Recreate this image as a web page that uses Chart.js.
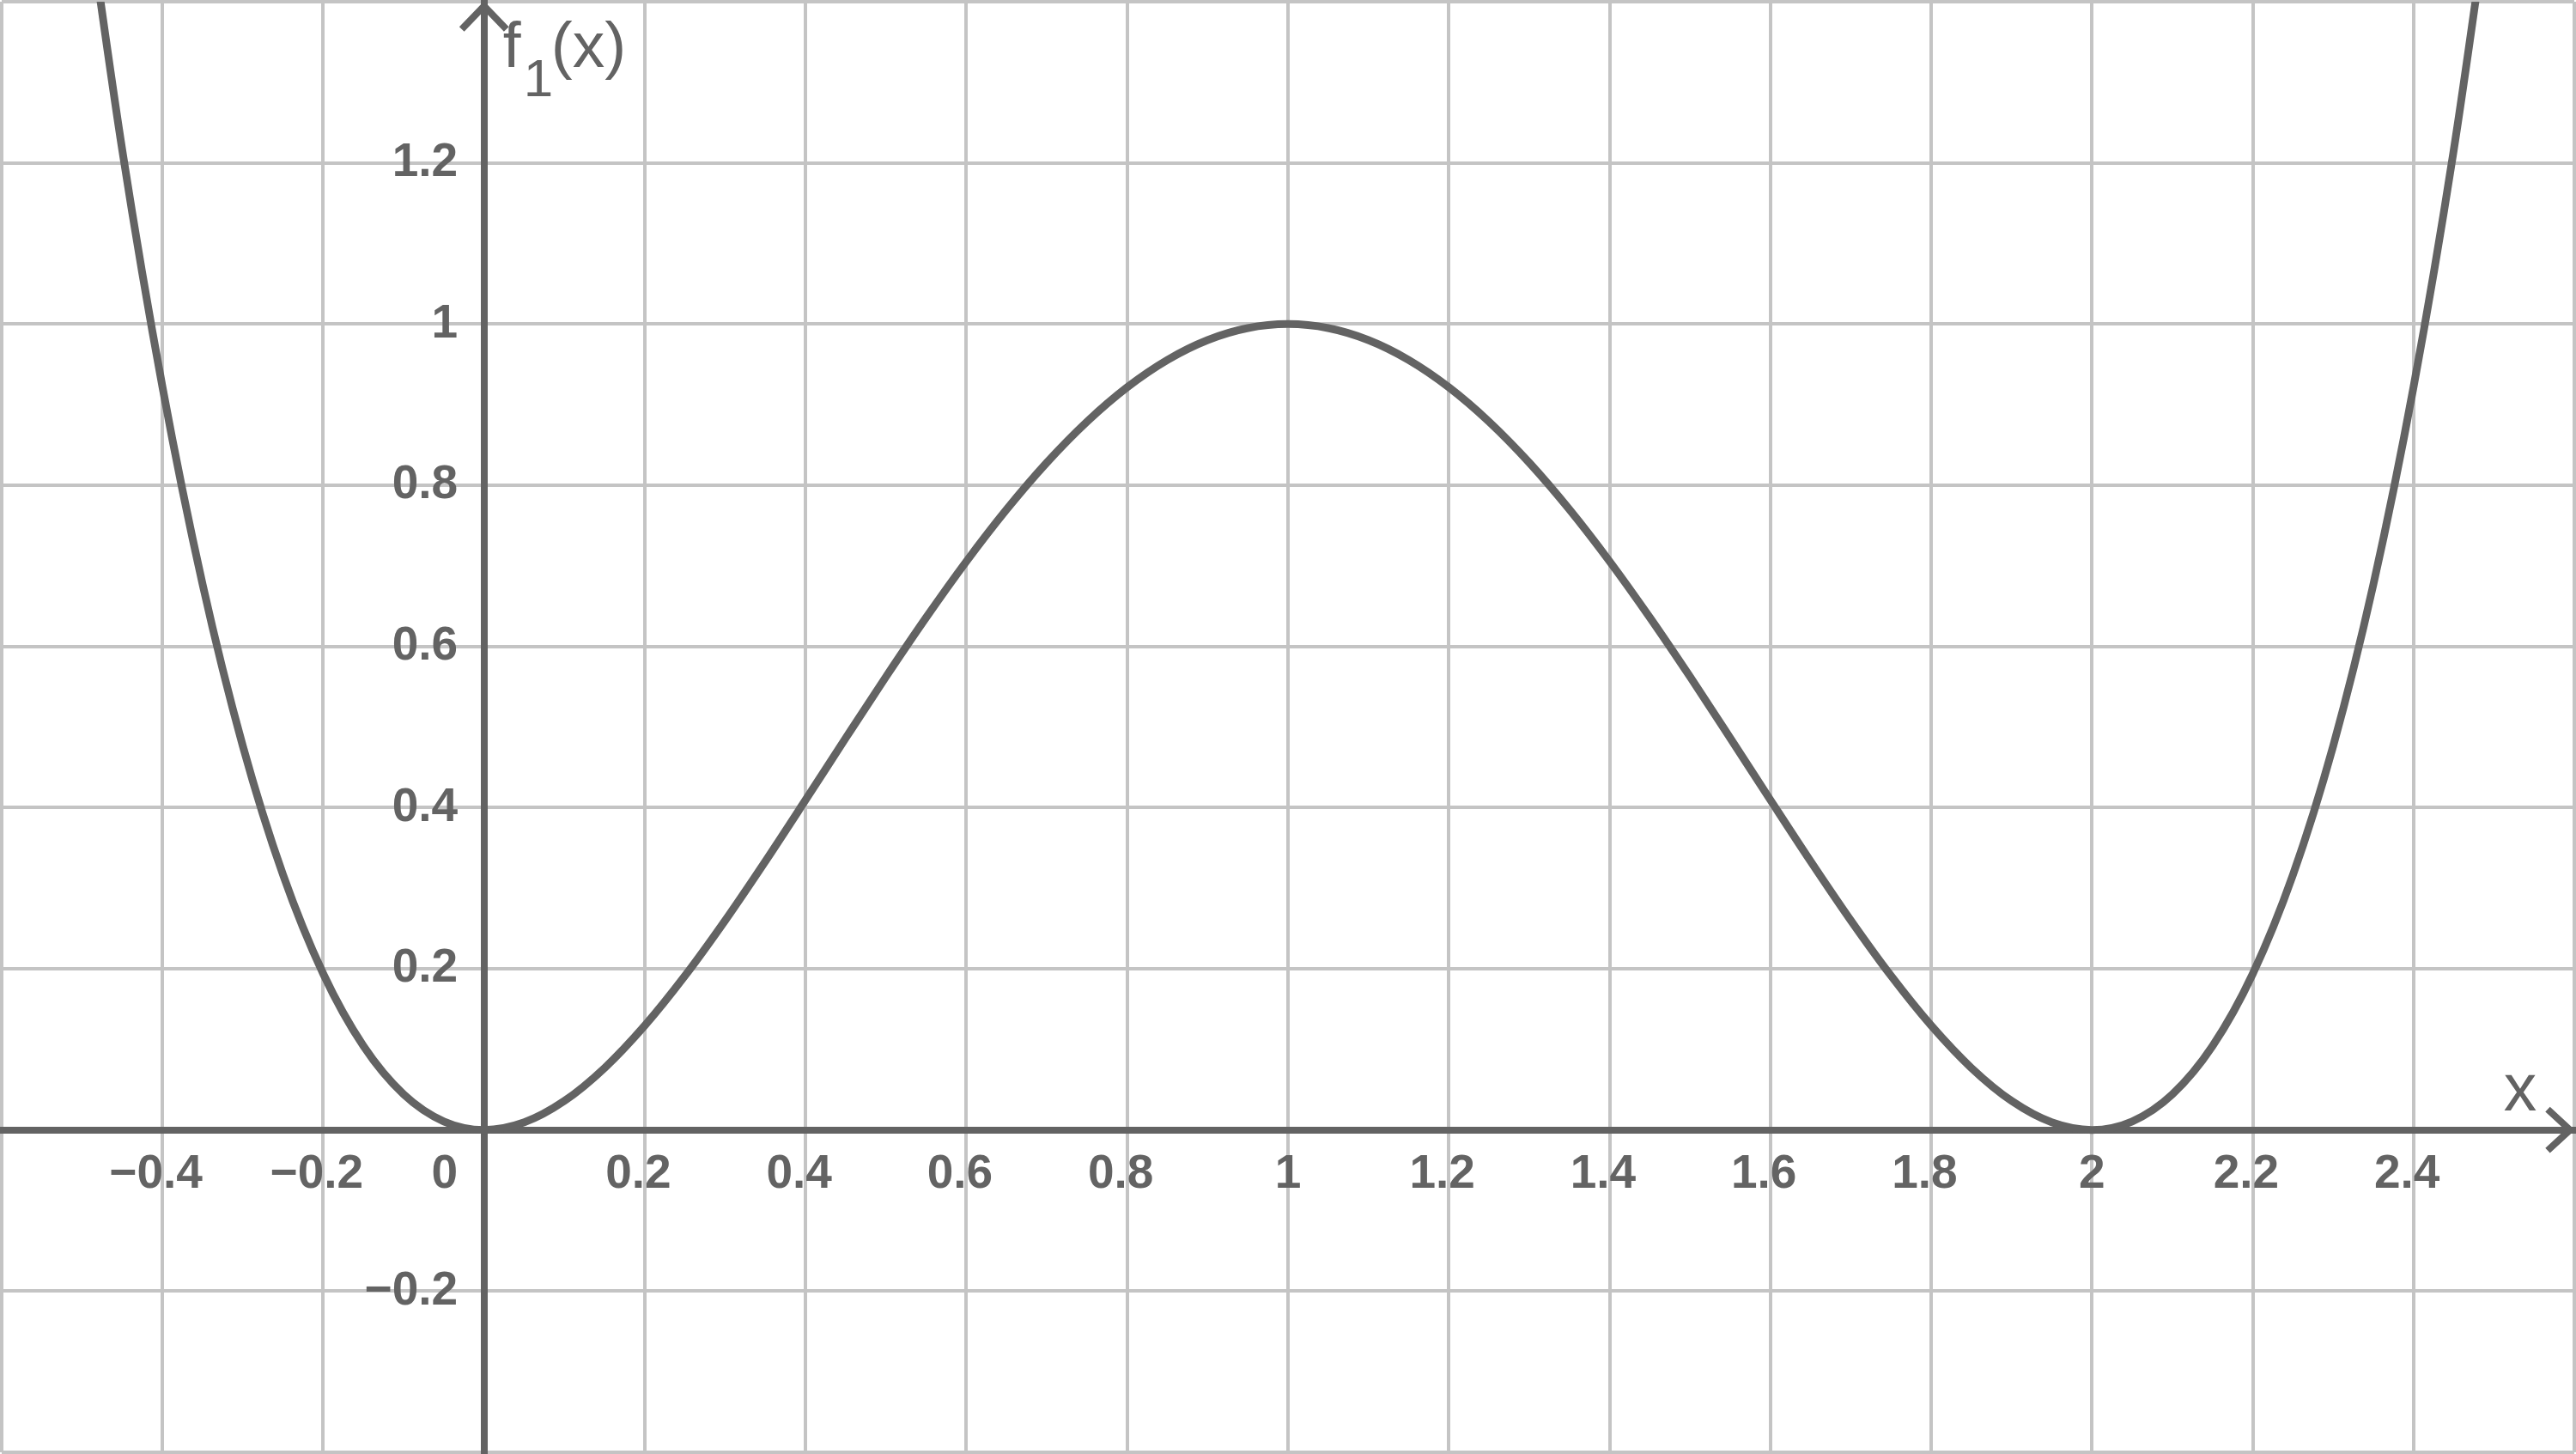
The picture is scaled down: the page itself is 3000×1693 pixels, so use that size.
<!DOCTYPE html>
<html lang="en">

<head>
    <meta charset="UTF-8">
    <title>f1(x)</title>

    <!-- Load Chart.js from CDN -->
    <script src="https://cdn.jsdelivr.net/npm/chart.js"></script>

    <style>
        html,
        body {
            margin: 0;
            padding: 0;
            background: #ffffff;
        }

        #chart-container {
            width: 3000px;
            height: 1693px;
        }
    </style>
</head>

<body>

    <div id="chart-container">
        <canvas id="funcChart"></canvas>
    </div>

    <script>
        // x positions of the sampled curve
        const xValues = [
            -0.5, -0.45, -0.4, -0.35, -0.3, -0.25, -0.2, -0.15, -0.1, -0.05,
            0, 0.05, 0.1, 0.15, 0.2, 0.25, 0.3, 0.35, 0.4, 0.45,
            0.5, 0.55, 0.6, 0.65, 0.7, 0.75, 0.8, 0.85, 0.9, 0.95,
            1, 1.05, 1.1, 1.15, 1.2, 1.25, 1.3, 1.35, 1.4, 1.45,
            1.5, 1.55, 1.6, 1.65, 1.7, 1.75, 1.8, 1.85, 1.9, 1.95,
            2, 2.05, 2.1, 2.15, 2.2, 2.25, 2.3, 2.35, 2.4, 2.45, 2.5
        ];

        // f1(x)
        const fValues = [
            1.5625, 1.2155, 0.9216, 0.6765, 0.4761, 0.3164, 0.1936, 0.1040, 0.0441, 0.0105,
            0, 0.0095, 0.0361, 0.0770, 0.1296, 0.1914, 0.2601, 0.3335, 0.4096, 0.4865,
            0.5625, 0.6360, 0.7056, 0.7700, 0.8281, 0.8789, 0.9216, 0.9555, 0.9801, 0.9950,
            1, 0.9950, 0.9801, 0.9555, 0.9216, 0.8789, 0.8281, 0.7700, 0.7056, 0.6360,
            0.5625, 0.4865, 0.4096, 0.3335, 0.2601, 0.1914, 0.1296, 0.0770, 0.0361, 0.0095,
            0, 0.0105, 0.0441, 0.1040, 0.1936, 0.3164, 0.4761, 0.6765, 0.9216, 1.2155, 1.5625
        ];

        // grid / tick positions
        const xTicks = [-0.6, -0.4, -0.2, 0, 0.2, 0.4, 0.6, 0.8, 1, 1.2, 1.4, 1.6, 1.8, 2, 2.2, 2.4, 2.6];
        const yTicks = [-0.4, -0.2, 0, 0.2, 0.4, 0.6, 0.8, 1, 1.2, 1.4];

        // which ticks get a label
        const xLabelled = [-0.4, -0.2, 0, 0.2, 0.4, 0.6, 0.8, 1, 1.2, 1.4, 1.6, 1.8, 2, 2.2, 2.4];
        const yLabelled = [-0.2, 0.2, 0.4, 0.6, 0.8, 1, 1.2];

        const ink = '#636363';
        const gridInk = '#c4c4c4';

        function fmt(v) {
            return String(Math.round(v * 10) / 10).replace('-', '\u2212');
        }

        function hasValue(list, v) {
            return list.some(t => Math.abs(t - v) < 1e-9);
        }

        // arrows at the ends of the axes plus the axis names
        const axisDecor = {
            id: 'axisDecor',
            afterDraw(chart) {
                const ctx = chart.ctx;
                const x0 = chart.scales.x.getPixelForValue(0);
                const y0 = chart.scales.y.getPixelForValue(0);

                ctx.save();
                ctx.strokeStyle = ink;
                ctx.lineWidth = 8;
                ctx.lineJoin = 'miter';

                // y arrow
                ctx.beginPath();
                ctx.moveTo(x0 - 26, 34);
                ctx.lineTo(x0, 7);
                ctx.lineTo(x0 + 26, 34);
                ctx.stroke();

                // x arrow
                ctx.beginPath();
                ctx.moveTo(2967, y0 - 24);
                ctx.lineTo(2993, y0);
                ctx.lineTo(2967, y0 + 24);
                ctx.stroke();

                ctx.fillStyle = ink;
                ctx.textAlign = 'left';
                ctx.textBaseline = 'alphabetic';
                ctx.font = '75px "Liberation Sans", Arial, sans-serif';
                ctx.fillText('f', x0 + 22, 78);
                ctx.fillText('(x)', x0 + 78, 78);
                ctx.font = '62px "Liberation Sans", Arial, sans-serif';
                ctx.fillText('1', x0 + 46, 112);

                ctx.textAlign = 'center';
                ctx.font = '77px "Liberation Sans", Arial, sans-serif';
                ctx.fillText('x', 2935, y0 - 23);
                ctx.restore();
            }
        };

        const tickFont = {
            family: '"Liberation Sans", Arial, sans-serif',
            size: 55,
            weight: 'bold'
        };

        window.onload = function () {
            const ctx = document.getElementById('funcChart').getContext('2d');
            new Chart(ctx, {
                type: 'line',
                data: {
                    datasets: [{
                        label: 'f1(x)',
                        data: xValues.map((x, i) => ({ x: x, y: fValues[i] })),
                        borderColor: ink,
                        borderWidth: 9,
                        pointRadius: 0,
                        fill: false,
                        cubicInterpolationMode: 'monotone'
                    }]
                },
                options: {
                    responsive: true,
                    maintainAspectRatio: false,
                    animation: false,
                    devicePixelRatio: 1,
                    layout: {
                        padding: { left: 2, right: 2, top: 2, bottom: 2 }
                    },
                    plugins: {
                        legend: { display: false },
                        tooltip: { enabled: false }
                    },
                    scales: {
                        x: {
                            type: 'linear',
                            min: -0.6,
                            max: 2.6,
                            position: { y: 0 },
                            afterBuildTicks: s => { s.ticks = xTicks.map(v => ({ value: v })); },
                            afterFit: s => {
                                s.height = 0;
                                s.paddingLeft = 0;
                                s.paddingRight = 0;
                            },
                            grid: {
                                color: gridInk,
                                lineWidth: 4,
                                drawTicks: false
                            },
                            border: {
                                display: true,
                                color: ink,
                                width: 8
                            },
                            ticks: {
                                autoSkip: false,
                                maxRotation: 0,
                                padding: 19,
                                color: ink,
                                font: tickFont,
                                callback: v => {
                                    if (!hasValue(xLabelled, v)) return '';
                                    if (v === 0) return '0      ';
                                    const s = fmt(v);
                                    return s.length > 1 ? s + ' ' : s;
                                }
                            }
                        },
                        y: {
                            type: 'linear',
                            min: -0.4,
                            max: 1.4,
                            position: { x: 0 },
                            afterBuildTicks: s => { s.ticks = yTicks.map(v => ({ value: v })); },
                            afterFit: s => {
                                s.width = 0;
                                s.paddingTop = 0;
                                s.paddingBottom = 0;
                            },
                            grid: {
                                color: gridInk,
                                lineWidth: 4,
                                drawTicks: false
                            },
                            border: {
                                display: true,
                                color: ink,
                                width: 8
                            },
                            ticks: {
                                autoSkip: false,
                                color: ink,
                                font: tickFont,
                                callback: v => hasValue(yLabelled, v) ? fmt(v) + '  ' : ''
                            }
                        }
                    }
                },
                plugins: [axisDecor]
            });
        };
    </script>

</body>

</html>
